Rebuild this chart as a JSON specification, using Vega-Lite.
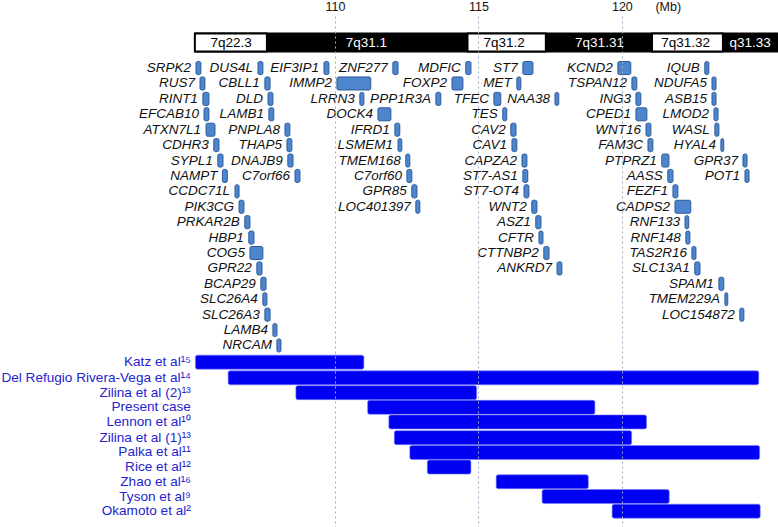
{
  "$schema": "https://vega.github.io/schema/vega-lite/v6.json",
  "width": 778,
  "height": 511,
  "autosize": {"type": "none"},
  "padding": {"top": 16, "left": 0, "right": 0, "bottom": 0},
  "background": "white",
  "config": {"view": {"stroke": null}, "font": "Liberation Sans"},
  "datasets": {
    "bands": [
      {"band": "7q22.3", "start": 105.12, "end": 107.63, "mid": 106.38, "stain": "white"},
      {"band": "7q31.1", "start": 107.63, "end": 114.62, "mid": 111.1, "stain": "black"},
      {"band": "7q31.2", "start": 114.62, "end": 117.35, "mid": 115.9, "stain": "white"},
      {"band": "7q31.31", "start": 117.35, "end": 121.05, "mid": 119.22, "stain": "black"},
      {"band": "7q31.32", "start": 121.05, "end": 123.52, "mid": 122.22, "stain": "white"},
      {"band": "q31.33", "start": 123.52, "end": 125.6, "mid": 124.47, "stain": "black"}
    ],
    "genes": [
      {"gene": "SRPK2", "start": 105.16, "end": 105.33, "row": 0},
      {"gene": "RUS7", "start": 105.30, "end": 105.47, "row": 1},
      {"gene": "RINT1", "start": 105.40, "end": 105.61, "row": 2},
      {"gene": "EFCAB10", "start": 105.44, "end": 105.61, "row": 3},
      {"gene": "ATXN7L1", "start": 105.51, "end": 105.82, "row": 4},
      {"gene": "CDHR3", "start": 105.78, "end": 105.96, "row": 5},
      {"gene": "SYPL1", "start": 105.92, "end": 106.10, "row": 6},
      {"gene": "NAMPT", "start": 106.08, "end": 106.25, "row": 7},
      {"gene": "CCDC71L", "start": 106.52, "end": 106.66, "row": 8},
      {"gene": "PIK3CG", "start": 106.66, "end": 106.83, "row": 9},
      {"gene": "PRKAR2B", "start": 106.86, "end": 107.04, "row": 10},
      {"gene": "HBP1", "start": 107.00, "end": 107.18, "row": 11},
      {"gene": "COG5", "start": 107.04, "end": 107.49, "row": 12},
      {"gene": "GPR22", "start": 107.28, "end": 107.46, "row": 13},
      {"gene": "BCAP29", "start": 107.42, "end": 107.60, "row": 14},
      {"gene": "SLC26A4", "start": 107.49, "end": 107.63, "row": 15},
      {"gene": "SLC26A3", "start": 107.56, "end": 107.74, "row": 16},
      {"gene": "LAMB4", "start": 107.84, "end": 107.98, "row": 17},
      {"gene": "NRCAM", "start": 107.98, "end": 108.12, "row": 18},
      {"gene": "DUS4L", "start": 107.32, "end": 107.49, "row": 0},
      {"gene": "CBLL1", "start": 107.56, "end": 107.74, "row": 1},
      {"gene": "DLD", "start": 107.67, "end": 107.84, "row": 2},
      {"gene": "LAMB1", "start": 107.70, "end": 107.87, "row": 3},
      {"gene": "PNPLA8", "start": 108.26, "end": 108.43, "row": 4},
      {"gene": "THAP5", "start": 108.33, "end": 108.50, "row": 5},
      {"gene": "DNAJB9", "start": 108.36, "end": 108.54, "row": 6},
      {"gene": "C7orf66", "start": 108.61, "end": 108.78, "row": 7},
      {"gene": "EIF3IP1", "start": 109.62, "end": 109.79, "row": 0},
      {"gene": "IMMP2", "start": 110.07, "end": 111.25, "row": 1},
      {"gene": "LRRN3", "start": 110.87, "end": 111.01, "row": 2},
      {"gene": "DOCK4", "start": 111.50, "end": 111.95, "row": 3},
      {"gene": "IFRD1", "start": 112.09, "end": 112.26, "row": 4},
      {"gene": "LSMEM1", "start": 112.20, "end": 112.33, "row": 5},
      {"gene": "TMEM168", "start": 112.47, "end": 112.61, "row": 6},
      {"gene": "C7orf60", "start": 112.51, "end": 112.68, "row": 7},
      {"gene": "GPR85", "start": 112.68, "end": 112.86, "row": 8},
      {"gene": "LOC401397", "start": 112.82, "end": 112.96, "row": 9},
      {"gene": "ZNF277", "start": 112.02, "end": 112.20, "row": 0},
      {"gene": "PPP1R3A", "start": 113.52, "end": 113.69, "row": 2},
      {"gene": "MDFIC", "start": 114.56, "end": 114.74, "row": 0},
      {"gene": "FOXP2", "start": 114.08, "end": 114.46, "row": 1},
      {"gene": "ST7", "start": 116.55, "end": 116.90, "row": 0},
      {"gene": "MET", "start": 116.34, "end": 116.48, "row": 1},
      {"gene": "TFEC", "start": 115.54, "end": 115.78, "row": 2},
      {"gene": "NAA38", "start": 117.67, "end": 117.80, "row": 2},
      {"gene": "TES", "start": 115.85, "end": 115.99, "row": 3},
      {"gene": "CAV2", "start": 116.13, "end": 116.31, "row": 4},
      {"gene": "CAV1", "start": 116.17, "end": 116.34, "row": 5},
      {"gene": "CAPZA2", "start": 116.52, "end": 116.69, "row": 6},
      {"gene": "ST7-AS1", "start": 116.55, "end": 116.72, "row": 7},
      {"gene": "ST7-OT4", "start": 116.59, "end": 116.76, "row": 8},
      {"gene": "WNT2", "start": 116.86, "end": 117.04, "row": 9},
      {"gene": "ASZ1", "start": 117.00, "end": 117.18, "row": 10},
      {"gene": "CFTR", "start": 117.11, "end": 117.25, "row": 11},
      {"gene": "CTTNBP2", "start": 117.28, "end": 117.46, "row": 12},
      {"gene": "ANKRD7", "start": 117.74, "end": 117.91, "row": 13},
      {"gene": "KCND2", "start": 119.86, "end": 120.31, "row": 0},
      {"gene": "TSPAN12", "start": 120.35, "end": 120.52, "row": 1},
      {"gene": "ING3", "start": 120.49, "end": 120.66, "row": 2},
      {"gene": "CPED1", "start": 120.49, "end": 120.87, "row": 3},
      {"gene": "WNT16", "start": 120.84, "end": 121.01, "row": 4},
      {"gene": "FAM3C", "start": 120.91, "end": 121.08, "row": 5},
      {"gene": "PTPRZ1", "start": 121.39, "end": 121.64, "row": 6},
      {"gene": "AASS", "start": 121.60, "end": 121.78, "row": 7},
      {"gene": "FEZF1", "start": 121.78, "end": 121.95, "row": 8},
      {"gene": "CADPS2", "start": 121.85, "end": 122.40, "row": 9},
      {"gene": "RNF133", "start": 122.20, "end": 122.33, "row": 10},
      {"gene": "RNF148", "start": 122.23, "end": 122.37, "row": 11},
      {"gene": "TAS2R16", "start": 122.44, "end": 122.58, "row": 12},
      {"gene": "SLC13A1", "start": 122.54, "end": 122.72, "row": 13},
      {"gene": "SPAM1", "start": 123.38, "end": 123.55, "row": 14},
      {"gene": "TMEM229A", "start": 123.59, "end": 123.69, "row": 15},
      {"gene": "LOC154872", "start": 124.11, "end": 124.25, "row": 16},
      {"gene": "IQUB", "start": 122.89, "end": 123.03, "row": 0},
      {"gene": "NDUFA5", "start": 123.14, "end": 123.28, "row": 1},
      {"gene": "ASB15", "start": 123.14, "end": 123.28, "row": 2},
      {"gene": "LMOD2", "start": 123.21, "end": 123.35, "row": 3},
      {"gene": "WASL", "start": 123.24, "end": 123.38, "row": 4},
      {"gene": "HYAL4", "start": 123.45, "end": 123.55, "row": 5},
      {"gene": "GPR37", "start": 124.22, "end": 124.36, "row": 6},
      {"gene": "POT1", "start": 124.29, "end": 124.43, "row": 7}
    ],
    "studies": [
      {"study": "Katz et al¹⁵", "start": 105.14, "end": 111.01, "row": 19.08},
      {"study": "Del Refugio Rivera-Vega et al¹⁴", "start": 106.28, "end": 124.77, "row": 20.1},
      {"study": "Zilina et al (2)¹³", "start": 108.64, "end": 114.94, "row": 21.06},
      {"study": "Present case", "start": 111.14, "end": 119.06, "row": 22.01},
      {"study": "Lennon et al¹⁰", "start": 111.88, "end": 120.86, "row": 22.96},
      {"study": "Zilina et al (1)¹³", "start": 112.07, "end": 120.34, "row": 23.98},
      {"study": "Palka et al¹¹", "start": 112.61, "end": 124.8, "row": 24.94},
      {"study": "Rice et al¹²", "start": 113.22, "end": 114.74, "row": 25.89},
      {"study": "Zhao et al¹⁶", "start": 115.62, "end": 118.83, "row": 26.84},
      {"study": "Tyson et al⁹", "start": 117.22, "end": 121.65, "row": 27.8},
      {"study": "Okamoto et al²", "start": 119.66, "end": 124.82, "row": 28.75}
    ]
  },
  "encoding": {},
  "layer": [
    {
      "data": {"name": "bands"},
      "mark": {"type": "bar", "size": 20, "color": "black", "clip": true},
      "encoding": {
        "x": {"field": "start", "type": "quantitative",
              "scale": {"domain": [98.33, 125.44], "nice": false, "zero": false},
              "axis": {"orient": "top", "values": [110, 115, 120, 121.6],
                       "labelExpr": "datum.value > 121 ? '(Mb)' : datum.label",
                       "domain": false, "ticks": false, "title": null,
                       "labelFont": "Liberation Sans", "labelFontSize": 12.5, "labelColor": "#111",
                       "labelBaseline": "alphabetic", "labelPadding": 6,
                       "grid": true, "gridColor": "#9aabc6", "gridDash": [2, 3], "gridWidth": 1,
                       "gridOpacity": {"condition": {"test": "datum.value > 121", "value": 0}, "value": 1},
                       "zindex": 1}},
        "x2": {"field": "end"},
        "y": {"datum": -1.654, "type": "quantitative",
              "scale": {"domain": [-3.0534, 29.453], "reverse": true, "nice": false, "zero": false},
              "axis": null}
      }
    },
    {
      "data": {"name": "bands"},
      "transform": [{"filter": "datum.stain == 'white'"}],
      "mark": {"type": "bar", "size": 18, "fill": "white", "stroke": "black", "strokeWidth": 2},
      "encoding": {
        "x": {"field": "start", "type": "quantitative"},
        "x2": {"field": "end"},
        "y": {"datum": -1.654, "type": "quantitative"}
      }
    },
    {
      "data": {"name": "bands"},
      "mark": {"type": "text", "fontSize": 13.5, "baseline": "middle", "align": "center", "font": "Liberation Sans"},
      "encoding": {
        "x": {"field": "mid", "type": "quantitative"},
        "y": {"datum": -1.654, "type": "quantitative"},
        "text": {"field": "band"},
        "color": {"field": "stain", "type": "nominal",
                  "scale": {"domain": ["black", "white"], "range": ["white", "black"]}, "legend": null}
      }
    },
    {
      "mark": {"type": "text", "fontSize": 12.5, "baseline": "middle", "align": "right", "color": "#111", "font": "Liberation Sans"},
      "encoding": {
        "x": {"datum": 104.39, "type": "quantitative"},
        "y": {"datum": -1.654, "type": "quantitative"},
        "text": {"value": "Chromosome band"}
      }
    },
    {
      "data": {"name": "genes"},
      "mark": {"type": "bar", "size": 13, "fill": "#4d86cf", "stroke": "#2b5a97", "strokeWidth": 1, "cornerRadius": 1.5},
      "encoding": {
        "x": {"field": "start", "type": "quantitative"},
        "x2": {"field": "end"},
        "y": {"field": "row", "type": "quantitative"}
      }
    },
    {
      "data": {"name": "genes"},
      "mark": {"type": "text", "fontSize": 13.5, "fontStyle": "italic", "baseline": "middle", "align": "right", "dx": -5, "color": "#111", "font": "Liberation Sans"},
      "encoding": {
        "x": {"field": "start", "type": "quantitative"},
        "y": {"field": "row", "type": "quantitative"},
        "text": {"field": "gene"}
      }
    },
    {
      "data": {"name": "studies"},
      "mark": {"type": "bar", "size": 14, "fill": "#0000f2", "stroke": "#7a7aff", "strokeWidth": 0.6, "cornerRadius": 2},
      "encoding": {
        "x": {"field": "start", "type": "quantitative"},
        "x2": {"field": "end"},
        "y": {"field": "row", "type": "quantitative"}
      }
    },
    {
      "data": {"name": "studies"},
      "mark": {"type": "text", "fontSize": 13.6, "baseline": "middle", "align": "right", "color": "#2424d0", "font": "Liberation Sans"},
      "encoding": {
        "x": {"datum": 104.98, "type": "quantitative"},
        "y": {"field": "row", "type": "quantitative"},
        "text": {"field": "study"}
      }
    }
  ]
}
